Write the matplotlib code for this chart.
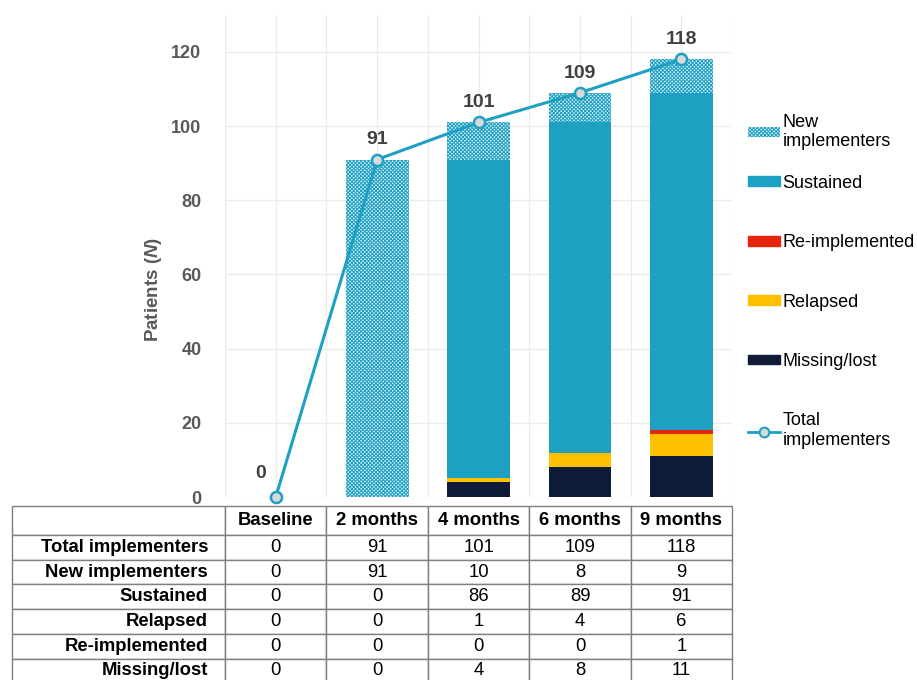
from matplotlib import pyplot as plt
from matplotlib.patches import Patch
from matplotlib.lines import Line2D
import numpy as np

plt.rcParams['font.family'] = ['Liberation Sans', 'DejaVu Sans']
plt.rcParams['mathtext.fontset'] = 'custom'
plt.rcParams['mathtext.rm'] = 'Liberation Sans'
plt.rcParams['mathtext.bf'] = 'Liberation Sans:bold'
plt.rcParams['mathtext.it'] = 'Liberation Sans:italic'
plt.rcParams['mathtext.bfit'] = 'Liberation Sans:bold:italic'
plt.rcParams['hatch.linewidth'] = 0.7

categories = ['Baseline', '2 months', '4 months', '6 months', '9 months']
total = [0, 91, 101, 109, 118]
new_impl = [0, 91, 10, 8, 9]
sustained = [0, 0, 86, 89, 91]
relapsed = [0, 0, 1, 4, 6]
reimpl = [0, 0, 0, 0, 1]
missing = [0, 0, 4, 8, 11]

teal = '#1ea0c3'
navy = '#0f1c38'
gold = '#ffc000'
red = '#e5260d'
grey_txt = '#595959'
hatch_face = '#d2ecf3'

fig = plt.figure(figsize=(9.17, 6.8), dpi=100)
ax = fig.add_axes([0.2454, 0.2691, 0.553, 0.709])

x = np.arange(len(categories))
w = 0.62

# stacked bars, bottom to top
bottom = np.zeros(len(categories))
for vals, col in [(missing, navy), (relapsed, gold), (reimpl, red), (sustained, teal)]:
    ax.bar(x, vals, w, bottom=bottom, color=col, zorder=2)
    bottom += np.array(vals)
ax.bar(x, new_impl, w, bottom=bottom, facecolor=hatch_face, edgecolor=teal,
       hatch='xxxxxxxxx', linewidth=0, zorder=2)

# total line
ax.plot(x, total, color=teal, lw=2.2, marker='o', ms=8, mfc='#d9d9d9',
        mec=teal, mew=1.8, zorder=4, clip_on=False)
for i, v in enumerate(total):
    if i == 0:
        ax.text(i - 0.15, v + 4, str(v), ha='center', va='bottom',
                fontsize=14, fontweight='bold', color='#404040')
    else:
        ax.text(i, v + 3, str(v), ha='center', va='bottom',
                fontsize=14, fontweight='bold', color='#404040')

ax.set_xlim(-0.5, 4.5)
ax.set_ylim(0, 130)
ax.set_yticks(range(0, 121, 20))
ax.set_xticks([])
for xv in np.arange(-0.5, 4.51, 0.5):
    ax.axvline(xv, color='#ebebeb', lw=0.9, zorder=0)
for yv in range(0, 121, 20):
    ax.axhline(yv, color='#ebebeb', lw=0.9, zorder=0)
for s in ax.spines.values():
    s.set_visible(False)
ax.tick_params(axis='y', length=0, pad=17, labelsize=13, labelcolor=grey_txt)
for lab in ax.get_yticklabels():
    lab.set_fontweight('bold')
ax.set_ylabel(r'Patients ($\mathbfit{N}$)', fontsize=13.5, fontweight='bold',
              color=grey_txt)
ax.yaxis.set_label_coords(-0.12, 0.43)

# table
rows = ['Total implementers', 'New implementers', 'Sustained', 'Relapsed',
        'Re-implemented', 'Missing/lost']
row_vals = [total, new_impl, sustained, relapsed, reimpl, missing]
cell_text = [[''] + categories] + [[r] + [str(v) for v in vals] for r, vals in zip(rows, row_vals)]
tab = ax.table(cellText=cell_text, bbox=[-0.42, -0.3863, 1.42, 0.3676],
               colWidths=[213] + [101.4] * 5, cellLoc='center')
tab.auto_set_font_size(False)
for (r, c), cell in tab.get_celld().items():
    cell.set_edgecolor('#7f7f7f')
    cell.set_linewidth(1.0)
    cell.set_height(29 if r == 0 else 24.7)
    cell.get_text().set_fontsize(13.3)
    if r == 0 or c == 0:
        cell.get_text().set_fontweight('bold')
    if c == 0:
        cell.get_text().set_ha('right')
        cell.PAD = 0.08

# legend (two blocks: the hatched entry sits closer to the rest in the original)
leg_kw = dict(loc='upper left', frameon=False, fontsize=13,
              handlelength=1.75, handleheight=0.45, handletextpad=0.15,
              borderaxespad=0, borderpad=0)
h_new = Patch(facecolor=hatch_face, edgecolor=teal, hatch='xxxxxxxxx', linewidth=0)
fig.legend([h_new], ['New\nimplementers'],
           bbox_to_anchor=(0.816, 0.8326), **leg_kw)
handles = [
    Patch(color=teal), Patch(color=red), Patch(color=gold), Patch(color=navy),
    Line2D([], [], color=teal, lw=2, marker='o', ms=7, mfc='#d9d9d9', mec=teal, mew=1.5),
]
labels = ['Sustained', 'Re-implemented', 'Relapsed', 'Missing/lost',
          'Total\nimplementers']
fig.legend(handles, labels, bbox_to_anchor=(0.816, 0.743), labelspacing=2.35,
           **leg_kw)

fig.savefig('out.png', dpi=100)
